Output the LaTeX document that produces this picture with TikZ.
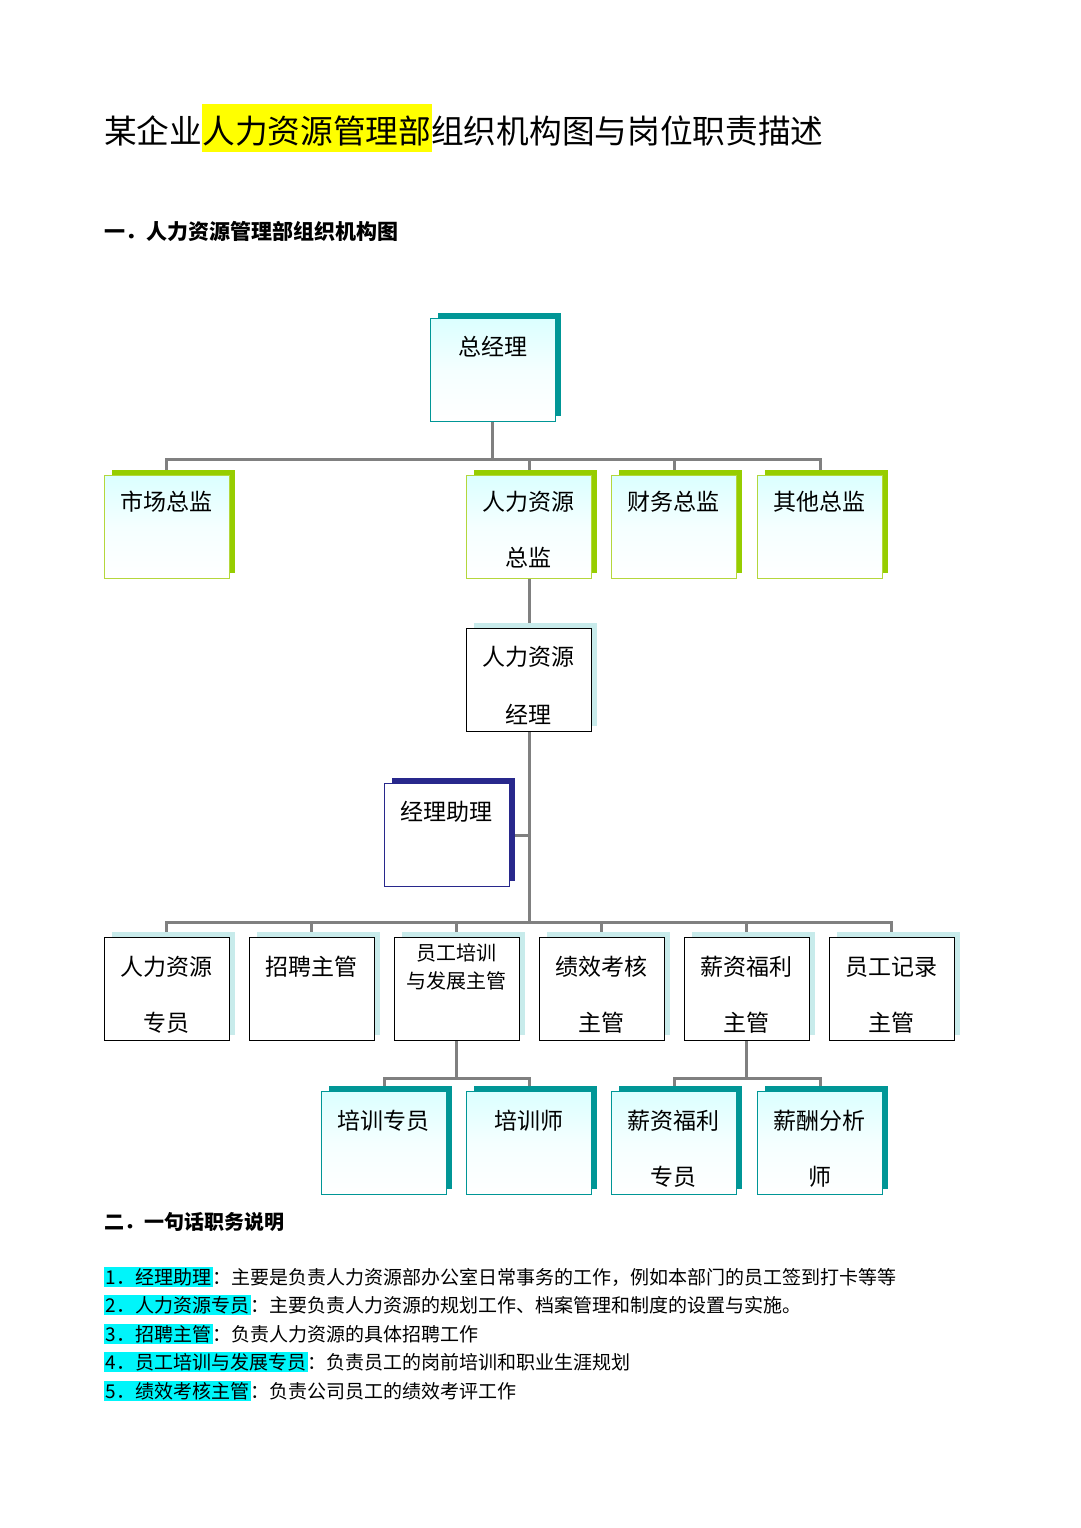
\documentclass[tikz,border=0pt]{standalone}
\usepackage{fontspec}
\setmainfont{Noto Sans CJK SC}
\definecolor{tealS}{RGB}{0,150,150}
\definecolor{greenS}{RGB}{150,205,0}
\definecolor{greenB}{RGB}{180,215,60}
\definecolor{navyS}{RGB}{40,40,140}
\definecolor{lightS}{RGB}{200,235,235}
\definecolor{lineG}{RGB}{128,128,128}
\definecolor{hlcyan}{RGB}{0,245,250}
\definecolor{hlyellow}{RGB}{255,255,0}
\newcommand\obox[6]{%
  \fill[#5] ({#2+8},{#3-5}) rectangle ({#2+131},{#3+98});
  \node[draw=#4, line width=1.3pt, minimum width=125pt, minimum height=103pt, anchor=north west, inner sep=0pt, #6] (#1) at (#2,#3) {};}
\newcommand\fs[1]{\fontsize{#1}{#1}\selectfont}
\tikzset{
  grad/.style={top color=cyan!14!white, bottom color=white, middle color=white!96!cyan},
  plain/.style={fill=white},
  bt/.style={font=\fs{23}, inner sep=0pt},
  conn/.style={draw=lineG, line width=3pt},
  para/.style={font=\fs{19}, anchor=west, inner sep=0pt},
  hl/.style={fill=hlcyan, inner sep=1.5pt}
}
\begin{document}
\begin{tikzpicture}[x=1pt,y=-1pt]
\useasboundingbox[fill=white] (0,0) rectangle (1080,1528);
% title
\fill[hlyellow] (202,104) rectangle (432,152);
\node[font=\fs{32.7}, anchor=west, inner sep=0pt] (title) at (104,131) {某企业人力资源管理部组织机构图与岗位职责描述};
\node[font=\fs{21}\bfseries, anchor=west, inner sep=0pt] (h1) at (104,231) {一．人力资源管理部组织机构图};
% connectors (drawn first)
\coordinate (b1) at (492.5,459); \coordinate (b2) at (529,922);
\coordinate (b3) at (456,1078); \coordinate (b4) at (746,1078);
\draw[conn] (492.5,421) -- (b1);
\draw[conn] (166,475) |- (820,459) -- (820,475);
\draw[conn] (529,459) -- (529,475); \draw[conn] (674,459) -- (674,475);
\draw[conn] (529,576) -- (b2);
\draw[conn] (509,835) -- (529,835);
\draw[conn] (166,937) |- (891,922) -- (891,937);
\foreach \x in {311,456,601,746} \draw[conn] (\x,922) -- (\x,937);
\draw[conn] (456,1041) -- (b3);
\draw[conn] (384,1091) |- (529,1078) -- (529,1091);
\draw[conn] (746,1041) -- (b4);
\draw[conn] (674,1091) |- (820,1078) -- (820,1091);
% boxes
\obox{gm}{430}{318}{tealS}{tealS}{grad}
\node[bt] (gmt) at (492.5,347) {总经理};
\obox{mk}{104}{475}{greenB}{greenS}{grad}
\node[bt] (mkt) at (166.5,502) {市场总监};
\obox{hrd}{466}{475}{greenB}{greenS}{grad}
\node[bt] (hrdt1) at (528.5,502) {人力资源};
\node[bt] (hrdt2) at (528.5,558) {总监};
\obox{fin}{611}{475}{greenB}{greenS}{grad}
\node[bt] (fint) at (673.5,502) {财务总监};
\obox{oth}{757}{475}{greenB}{greenS}{grad}
\node[bt] (otht) at (819.5,502) {其他总监};
\obox{hrm}{466}{628}{black}{lightS}{plain}
\node[bt] (hrmt1) at (528.5,657) {人力资源};
\node[bt] (hrmt2) at (528.5,714) {经理};
\obox{asst}{384}{783}{navyS}{navyS}{plain}
\node[bt] (asstt) at (446.5,812) {经理助理};
% row 4
\obox{r1}{104}{937}{black}{lightS}{plain}
\node[bt] (r1a) at (166.5,967) {人力资源}; \node[bt] (r1b) at (166.5,1023) {专员};
\obox{r2}{249}{937}{black}{lightS}{plain}
\node[bt] (r2a) at (311.5,967) {招聘主管};
\obox{r3}{394}{937}{black}{lightS}{plain}
\node[bt, font=\fs{20}] (r3a) at (456.5,953) {员工培训}; \node[bt, font=\fs{20}] (r3b) at (456.5,981) {与发展主管};
\obox{r4}{539}{937}{black}{lightS}{plain}
\node[bt] (r4a) at (601.5,967) {绩效考核}; \node[bt] (r4b) at (601.5,1023) {主管};
\obox{r5}{684}{937}{black}{lightS}{plain}
\node[bt] (r5a) at (746.5,967) {薪资福利}; \node[bt] (r5b) at (746.5,1023) {主管};
\obox{r6}{829}{937}{black}{lightS}{plain}
\node[bt] (r6a) at (891.5,967) {员工记录}; \node[bt] (r6b) at (891.5,1023) {主管};
% row 5
\obox{s1}{321}{1091}{tealS}{tealS}{grad}
\node[bt] (s1a) at (383.5,1121) {培训专员};
\obox{s2}{466}{1091}{tealS}{tealS}{grad}
\node[bt] (s2a) at (528.5,1121) {培训师};
\obox{s3}{611}{1091}{tealS}{tealS}{grad}
\node[bt] (s3a) at (673.5,1121) {薪资福利}; \node[bt] (s3b) at (673.5,1177) {专员};
\obox{s4}{757}{1091}{tealS}{tealS}{grad}
\node[bt] (s4a) at (819.5,1121) {薪酬分析}; \node[bt] (s4b) at (819.5,1177) {师};
% section 2
\node[font=\fs{20}\bfseries, anchor=west, inner sep=0pt] (h2) at (104,1222) {二．一句话职务说明};
\node[para] (p1) at (104,1277) {\tikz[baseline=(a.base)]\node[hl,inner sep=1.5pt](a){1．经理助理};：主要是负责人力资源部办公室日常事务的工作，例如本部门的员工签到打卡等等};
\node[para] (p2) at (104,1305) {\tikz[baseline=(a.base)]\node[hl](a){2．人力资源专员};：主要负责人力资源的规划工作、档案管理和制度的设置与实施。};
\node[para] (p3) at (104,1334) {\tikz[baseline=(a.base)]\node[hl](a){3．招聘主管};：负责人力资源的具体招聘工作};
\node[para] (p4) at (104,1362) {\tikz[baseline=(a.base)]\node[hl](a){4．员工培训与发展专员};：负责员工的岗前培训和职业生涯规划};
\node[para] (p5) at (104,1391) {\tikz[baseline=(a.base)]\node[hl](a){5．绩效考核主管};：负责公司员工的绩效考评工作};
\end{tikzpicture}
\end{document}
